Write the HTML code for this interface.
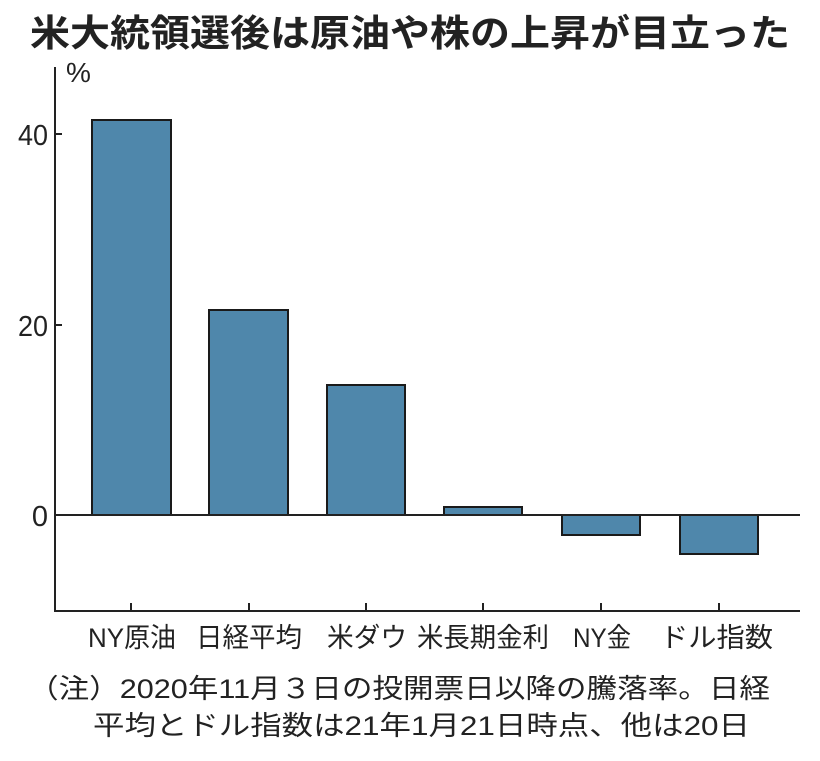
<!DOCTYPE html>
<html><head><meta charset="utf-8"><style>
body{margin:0;background:#fff;width:820px;height:756px;overflow:hidden}
svg text{font-family:"Liberation Sans","Noto Sans CJK JP",sans-serif;fill:#222}
</style></head><body>
<svg width="820" height="756" viewBox="0 0 820 756">
<text x="30" y="46" font-size="37" font-weight="bold" textLength="760" lengthAdjust="spacingAndGlyphs" style="font-family:'Noto Sans CJK JP',sans-serif">米大統領選後は原油や株の上昇が目立った</text>
<text x="66" y="82" font-size="28">%</text>
<g fill="#4f87ab" stroke="#1a1a1a" stroke-width="2">
<rect x="92" y="120" width="79" height="395"/>
<rect x="209" y="310" width="79" height="205"/>
<rect x="327" y="385" width="78" height="130"/>
<rect x="444" y="507" width="78" height="8"/>
<rect x="562" y="515" width="78" height="20"/>
<rect x="680" y="515" width="78" height="39"/>
</g>
<g stroke="#222" stroke-width="2" fill="none">
<line x1="55" y1="67" x2="55" y2="611"/>
<line x1="54" y1="611" x2="800" y2="611"/>
<line x1="55" y1="515" x2="800" y2="515"/>
<line x1="55" y1="134" x2="62" y2="134"/>
<line x1="55" y1="325" x2="62" y2="325"/>
<line x1="131" y1="611" x2="131" y2="603"/>
<line x1="249" y1="611" x2="249" y2="603"/>
<line x1="366" y1="611" x2="366" y2="603"/>
<line x1="483" y1="611" x2="483" y2="603"/>
<line x1="601" y1="611" x2="601" y2="603"/>
<line x1="719" y1="611" x2="719" y2="603"/>
</g>
<g font-size="29" text-anchor="end">
<text x="48" y="145" textLength="30" lengthAdjust="spacingAndGlyphs">40</text>
<text x="48" y="336" textLength="30" lengthAdjust="spacingAndGlyphs">20</text>
<text x="48" y="526">0</text>
</g>
<g font-size="27">
<text x="88" y="647" textLength="88" lengthAdjust="spacingAndGlyphs">NY原油</text>
<text x="196" y="647" textLength="106" lengthAdjust="spacingAndGlyphs">日経平均</text>
<text x="327" y="647" textLength="80" lengthAdjust="spacingAndGlyphs">米ダウ</text>
<text x="417" y="647" textLength="132" lengthAdjust="spacingAndGlyphs">米長期金利</text>
<text x="573" y="647" textLength="58" lengthAdjust="spacingAndGlyphs">NY金</text>
<text x="660" y="647" textLength="113" lengthAdjust="spacingAndGlyphs">ドル指数</text>
</g>
<text x="28" y="698" font-size="27" textLength="742" lengthAdjust="spacingAndGlyphs">（注）2020年11月３日の投開票日以降の騰落率。日経</text>
<text x="93" y="735" font-size="27" textLength="657" lengthAdjust="spacingAndGlyphs">平均とドル指数は21年1月21日時点、他は20日</text>
</svg>
</body></html>
